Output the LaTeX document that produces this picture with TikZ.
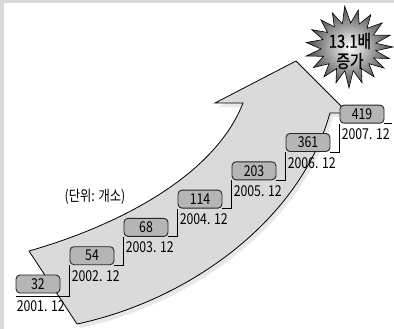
\documentclass[tikz,border=0pt]{standalone}
\usepackage{fontspec}
\newfontfamily\kr[FakeStretch=0.82]{Noto Sans CJK KR}
\newfontfamily\krb[FakeStretch=0.82,FakeBold=1.2]{Noto Sans CJK KR}
\usetikzlibrary{calc}
\definecolor{framegray}{HTML}{D9D9D9}
\definecolor{arrowgray}{HTML}{DADADA}
\definecolor{shadowgray}{HTML}{E8E8E8}
\definecolor{boxgray}{HTML}{B5B5B5}
\begin{document}
\begin{tikzpicture}[x=1pt,y=-1pt,
  valbox/.style={draw=black!85, line width=0.9pt, fill=boxgray, rounded corners=4pt,
    minimum width=44pt, minimum height=18pt, inner sep=0pt, font=\kr\fontsize{15}{15}\selectfont},
  lab/.style={anchor=north west, inner sep=0pt, font=\kr\fontsize{15}{15}\selectfont},
  stair/.style={draw=black, line width=0.8pt},
  outline/.style={draw=black, line width=0.8pt}]
\useasboundingbox (0,0) rectangle (394,329);
\fill[framegray] (0,0) rectangle (394,329);
\fill[white] (4,3) rectangle (394,329);
% arrow shadow
\fill[shadowgray, shift={(3,4)}] (29,251) -- (77,324) .. controls (190,300) and (300,220) .. (330,113) -- (348,113) -- (296,61) -- (215,103) -- (243,103) .. controls (215,175) and (120,225) .. (29,251) -- cycle;
% arrow
\path[outline, fill=arrowgray] (29,251) -- (77,324) .. controls (190,300) and (300,220) .. (330,113) -- (348,113) -- (296,61) -- (215,103) -- (243,103) .. controls (215,175) and (120,225) .. (29,251) -- cycle;
% boxes
\node[valbox] (b1) at (38,284) {32};
\node[valbox] (b2) at (92,255.7) {54};
\node[valbox] (b3) at (146,227.4) {68};
\node[valbox] (b4) at (200,199.1) {114};
\node[valbox] (b5) at (254,170.8) {203};
\node[valbox] (b6) at (308,142.5) {361};
\node[valbox] (b7) at (362,114.2) {419};
% stairs
\coordinate (s0) at ($(b1.south west)+(0,3)$);
\coordinate (s7) at ($(b7.south east)+(8,0)$);
\draw[stair] (s0) -| (b2.south west);
\draw[stair] (b2.south east) -| (b3.south west);
\draw[stair] (b3.south east) -| (b4.south west);
\draw[stair] (b4.south east) -| (b5.south west);
\draw[stair] (b5.south east) -| (b6.south west);
\draw[stair] (b6.south east) -| (b7.south west);
\draw[stair] (b7.south east) -- (s7);
% labels
\node[lab] (l1) at ($(b1.south west)+(1,7)$) {2001. 12};
\node[lab] (l2) at ($(b2.south west)+(2,5)$) {2002. 12};
\node[lab] (l3) at ($(b3.south west)+(2,5)$) {2003. 12};
\node[lab] (l4) at ($(b4.south west)+(2,5)$) {2004. 12};
\node[lab] (l5) at ($(b5.south west)+(2,5)$) {2005. 12};
\node[lab] (l6) at ($(b6.south west)+(2,5)$) {2006. 12};
\node[lab] (l7) at ($(b7.south west)+(2,5)$) {2007. 12};
\node[inner sep=0pt, font=\kr\fontsize{15}{15}\selectfont] (unit) at (95,197) {(단위: 개소)};
% starburst
\path[shift={(349,47)}, draw=black, line width=0.6pt, shading=radial, inner color=white, outer color=black!72]
 (0:44) -- (8:27) -- (16:42) -- (24:27) -- (31:41) -- (40:26) -- (50:39) -- (60:25) -- (70:38) -- (80:24) -- (90:41) -- (100:24) -- (110:38) -- (120:25) -- (130:39) -- (140:26) -- (150:41) -- (160:27) -- (168:44) -- (176:28) -- (186:43) -- (196:27) -- (205:41) -- (214:26) -- (224:39) -- (234:25) -- (244:38) -- (254:24) -- (264:41) -- (274:24) -- (284:38) -- (294:25) -- (304:39) -- (314:26) -- (324:41) -- (334:27) -- (344:43) -- (352:27) -- cycle;
\node[inner sep=0pt, font=\krb\fontsize{18}{18}\selectfont] (st1) at (350,41) {13.1배};
\node[inner sep=0pt, font=\krb\fontsize{18}{18}\selectfont] (st2) at (350,61) {증가};
\end{tikzpicture}
\end{document}
